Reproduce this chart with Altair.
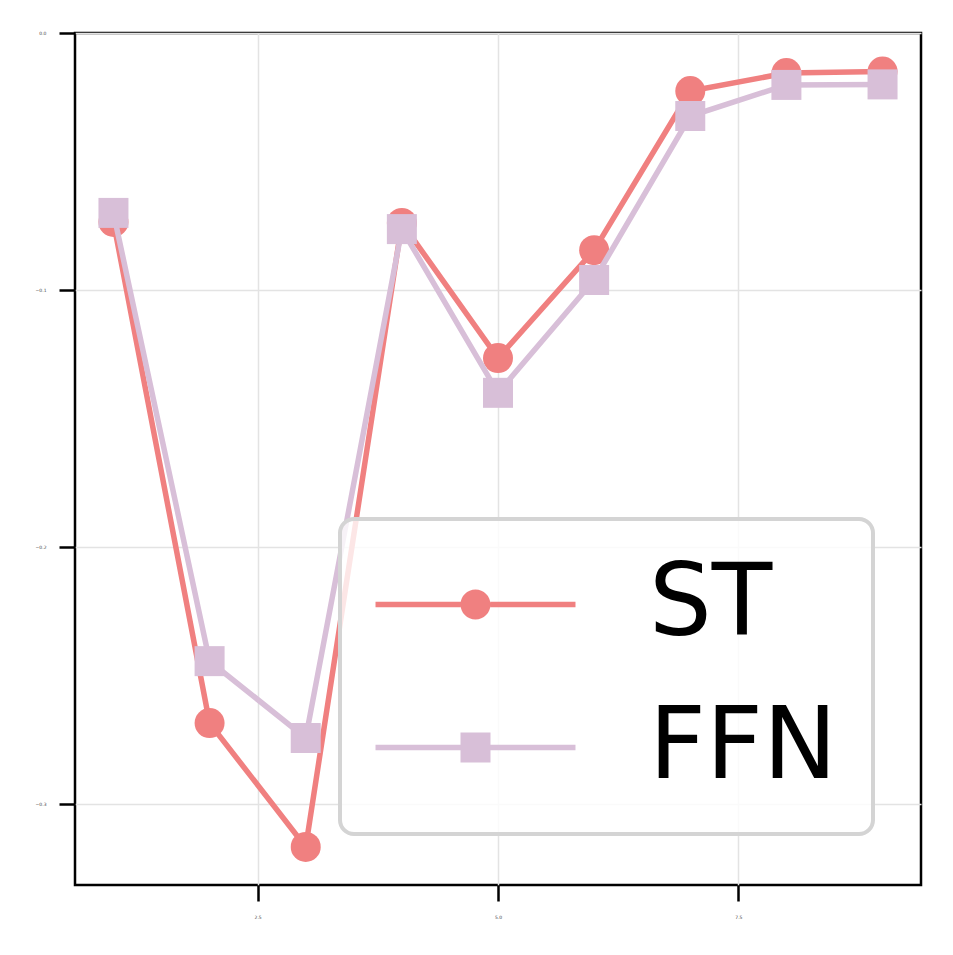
import altair as alt
import pandas as pd

steps = [1, 2, 3, 4, 5, 6, 7, 8, 9]
st_values = [-0.0735, -0.2685, -0.3167, -0.0739, -0.1265, -0.0845, -0.0226, -0.0156, -0.0150]
ffn_values = [-0.0700, -0.2444, -0.2743, -0.0763, -0.1400, -0.0961, -0.0323, -0.0202, -0.0200]
series_names = ["ST", "FFN"]
series_colors = ["#F08080", "#D8BFD8"]
x_ticks = [2.5, 5.0, 7.5]
y_ticks = [0.0, -0.1, -0.2, -0.3]

df = pd.DataFrame({
    "x": steps * 2,
    "y": st_values + ffn_values,
    "series": ["ST"] * len(steps) + ["FFN"] * len(steps),
})

xs = alt.Scale(domain=[0.6, 9.4], nice=False, zero=False)
ys = alt.Scale(domain=[-0.3315, 0.0], nice=False, zero=False)
cs = alt.Scale(domain=series_names, range=series_colors)

xax = alt.Axis(values=x_ticks, format=".1f", title=None, grid=True)
yax = alt.Axis(values=y_ticks, format=".1f", title=None, grid=True)

# legend symbol: unit = 49.5 px (symbolSize 9801)
bars = ("M-2.02,-0.0555L-0.30,-0.0555L-0.30,0.0555L-2.02,0.0555Z "
        "M0.30,-0.0555L2.02,-0.0555L2.02,0.0555L0.30,0.0555Z ")
circle_path = bars + "M0.303,0A0.303,0.303,0,1,1,-0.303,0A0.303,0.303,0,1,1,0.303,0Z"
square_path = bars + "M-0.303,-0.303L0.303,-0.303L0.303,0.303L-0.303,0.303Z"
ss = alt.Scale(domain=series_names, range=[circle_path, square_path])

legend = alt.Legend(
    title=None,
    orient="none",
    legendX=265,
    legendY=486,
    symbolSize=9801,
    symbolStrokeWidth=0,
    symbolOpacity=1,
    symbolOffset=50,
    labelFontSize=99,
    labelFont="DejaVu Sans",
    labelColor="black",
    labelLimit=1000,
    labelOffset=124,
    padding=36,
    rowPadding=43,
    cornerRadius=14,
    strokeColor="#d4d4d4",
    fillColor="rgba(255,255,255,0.8)",
)

legend_layer = alt.Chart(df).mark_point(filled=True, opacity=0).encode(
    x=alt.X("x:Q", scale=xs, axis=xax),
    y=alt.Y("y:Q", scale=ys, axis=yax),
    color=alt.Color("series:N", scale=cs, legend=legend),
    shape=alt.Shape("series:N", scale=ss, legend=legend),
)

layers = [legend_layer]
for i, name in enumerate(series_names):
    base = alt.Chart(df).transform_filter(alt.datum.series == name)
    line = base.mark_line(strokeWidth=5.5).encode(
        x=alt.X("x:Q", scale=xs, axis=xax),
        y=alt.Y("y:Q", scale=ys, axis=yax),
        stroke=alt.value(series_colors[i]),
    )
    pt = base.mark_point(filled=True, opacity=1, size=900,
                         shape="circle" if name == "ST" else "square").encode(
        x=alt.X("x:Q", scale=xs, axis=xax),
        y=alt.Y("y:Q", scale=ys, axis=yax),
        fill=alt.value(series_colors[i]),
    )
    layers += [line, pt]

chart = alt.layer(*layers).properties(
    width=846, height=852,
    autosize=alt.AutoSizeParams(type="none"),
    padding={"left": 67, "top": 25, "right": 24, "bottom": 62},
).configure_view(
    stroke="black", strokeWidth=2.5
).configure_legend(
    strokeWidth=4
).configure_axis(
    domain=False,
    grid=True,
    gridColor="#e3e3e3",
    gridWidth=1.5,
    ticks=True,
    tickColor="black",
    tickWidth=2.5,
    tickSize=16,
    labelFontSize=4.5,
    labelColor="#444444",
    labelFont="DejaVu Sans",
    labelPadding=13,
)

chart.save("out.html", embed_options={"renderer": "svg", "actions": False})
